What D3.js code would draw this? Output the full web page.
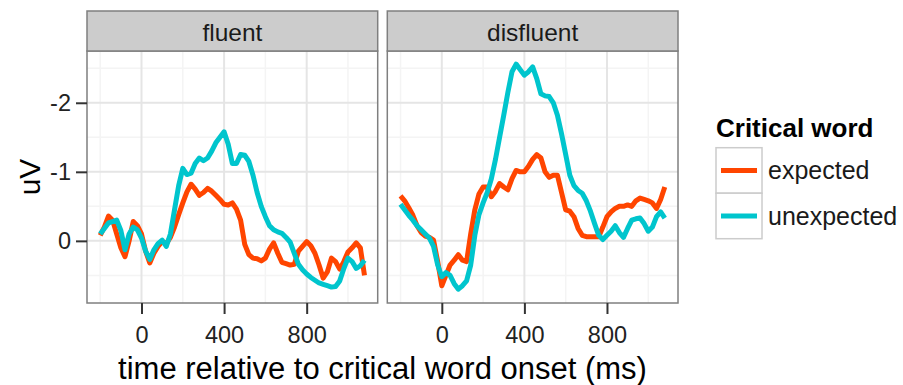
<!DOCTYPE html>
<html>
<head>
<meta charset="utf-8">
<script src="https://cdn.jsdelivr.net/npm/d3@7"></script>
<style>
  body { margin: 0; background: #fff; }
  svg { display: block; font-family: "Liberation Sans", Arial, sans-serif; }
</style>
</head>
<body>
<div id="chart"></div>
<script>
// ERP waveforms (uV, negative plotted up)
const times = [-200, -180, -160, -140, -120, -100, -80, -60, -40, -20, 0, 20, 40, 60, 80, 100, 120, 140, 160, 180,
  200, 220, 240, 260, 280, 300, 320, 340, 360, 380, 400, 420, 440, 460, 480, 500, 520, 540, 560, 580,
  600, 620, 640, 660, 680, 700, 720, 740, 760, 780, 800, 820, 840, 860, 880, 900, 920, 940, 960, 980,
  1000, 1020, 1040, 1060, 1080];

const panels = ["fluent", "disfluent"];
const conditions = ["expected", "unexpected"];

const fluentExpected = [-0.08, -0.2, -0.36, -0.3, -0.1, 0.1, 0.23, 0.0, -0.28, -0.22, -0.1, 0.15, 0.32, 0.18, 0.08, 0.01, 0.04, -0.05, -0.2, -0.38,
  -0.55, -0.71, -0.82, -0.75, -0.66, -0.7, -0.76, -0.72, -0.66, -0.6, -0.53, -0.52, -0.55, -0.46, -0.3, 0.05, 0.2, 0.25, 0.26, 0.29,
  0.25, 0.12, 0.03, 0.18, 0.31, 0.33, 0.35, 0.34, 0.15, 0.08, 0.01, 0.07, 0.18, 0.35, 0.54, 0.45, 0.25, 0.3, 0.41, 0.3,
  0.16, 0.1, 0.03, 0.1, 0.5];
const fluentUnexpected = [-0.1, -0.18, -0.26, -0.28, -0.3, -0.15, 0.13, -0.1, -0.2, -0.16, -0.04, 0.15, 0.27, 0.13, 0.04, -0.01, 0.08, -0.1, -0.45, -0.8,
  -1.05, -0.96, -0.98, -1.12, -1.2, -1.16, -1.2, -1.3, -1.42, -1.5, -1.58, -1.4, -1.12, -1.12, -1.25, -1.24, -1.15, -0.95, -0.7, -0.5,
  -0.35, -0.22, -0.16, -0.13, -0.11, -0.05, 0.02, 0.18, 0.34, 0.42, 0.48, 0.53, 0.57, 0.61, 0.63, 0.65, 0.67, 0.66, 0.58, 0.4,
  0.25, 0.3, 0.4, 0.36, 0.28];
const disfluentExpected = [-0.65, -0.58, -0.48, -0.37, -0.22, -0.12, -0.07, -0.05, -0.01, 0.3, 0.65, 0.5, 0.35, 0.28, 0.2, 0.28, 0.3, -0.1, -0.45, -0.68,
  -0.78, -0.78, -0.64, -0.72, -0.83, -0.78, -0.74, -0.9, -1.02, -1.0, -1.0, -1.08, -1.18, -1.25, -1.2, -1.0, -0.92, -0.95, -0.95, -0.7,
  -0.45, -0.43, -0.35, -0.18, -0.08, -0.06, -0.06, -0.06, -0.06, -0.2, -0.35, -0.42, -0.47, -0.5, -0.5, -0.52, -0.5, -0.58, -0.62, -0.6,
  -0.58, -0.55, -0.47, -0.6, -0.78];
const disfluentUnexpected = [-0.53, -0.45, -0.37, -0.3, -0.22, -0.16, -0.1, -0.04, 0.08, 0.35, 0.52, 0.46, 0.5, 0.62, 0.7, 0.65, 0.58, 0.35, -0.08, -0.38,
  -0.55, -0.7, -0.9, -1.18, -1.5, -1.82, -2.15, -2.45, -2.56, -2.48, -2.4, -2.45, -2.52, -2.35, -2.13, -2.1, -2.09, -2.0, -1.82, -1.55,
  -1.25, -0.95, -0.8, -0.73, -0.69, -0.58, -0.43, -0.25, -0.08, -0.02, -0.08, -0.14, -0.22, -0.12, -0.05, -0.18, -0.3, -0.32, -0.33, -0.25,
  -0.14, -0.2, -0.35, -0.42, -0.33];

const xTicks = [0, 400, 800];
const xMinor = [-200, 200, 600, 1000];
const yTicks = [-2, -1, 0];
const yMinor = [-2.5, -1.5, -0.5, 0.5];

const series = {
  fluent: { expected: fluentExpected, unexpected: fluentUnexpected },
  disfluent: { expected: disfluentExpected, unexpected: disfluentUnexpected }
};

const width = 903, height = 385;
const panelLeft = [87, 387.3];
const panelW = 290.7;
const stripTop = 11, panelTop = 51, panelBottom = 303;
const panelH = panelBottom - panelTop;

const color = d3.scaleOrdinal().domain(conditions).range(["#ff4500", "#00c5cd"]);

const x = d3.scaleLinear().domain([-264, 1144]).range([0, panelW]);
const y = d3.scaleLinear().domain([-2.75, 0.9]).range([0, panelH]);

const svg = d3.select("#chart").append("svg")
  .attr("width", width)
  .attr("height", height);

const line = d3.line()
  .x((d, i) => x(times[i]))
  .y(d => y(d));

panels.forEach((name, pi) => {
  const g = svg.append("g").attr("transform", `translate(${panelLeft[pi]},${panelTop})`);

  g.append("rect").attr("width", panelW).attr("height", panelH).attr("fill", "#fff");

  // minor grid
  g.selectAll(".vminor").data(xMinor).join("line")
    .attr("x1", d => x(d)).attr("x2", d => x(d))
    .attr("y1", 0).attr("y2", panelH)
    .attr("stroke", "#f4f4f4").attr("stroke-width", 1.5);
  g.selectAll(".hminor").data(yMinor).join("line")
    .attr("x1", 0).attr("x2", panelW)
    .attr("y1", d => y(d)).attr("y2", d => y(d))
    .attr("stroke", "#f4f4f4").attr("stroke-width", 1.5);

  // major grid
  g.append("g").selectAll("line").data(xTicks).join("line")
    .attr("x1", d => x(d)).attr("x2", d => x(d))
    .attr("y1", 0).attr("y2", panelH)
    .attr("stroke", "#e5e5e5").attr("stroke-width", 2);
  g.append("g").selectAll("line").data(yTicks).join("line")
    .attr("x1", 0).attr("x2", panelW)
    .attr("y1", d => y(d)).attr("y2", d => y(d))
    .attr("stroke", "#e5e5e5").attr("stroke-width", 2);

  // waveforms
  conditions.forEach(c => {
    g.append("path")
      .datum(series[name][c])
      .attr("d", line)
      .attr("fill", "none")
      .attr("stroke", color(c))
      .attr("stroke-width", 5)
      .attr("stroke-linejoin", "round");
  });

  g.append("rect").attr("width", panelW).attr("height", panelH)
    .attr("fill", "none").attr("stroke", "#7f7f7f").attr("stroke-width", 1.5);

  // strip
  g.append("rect")
    .attr("y", stripTop - panelTop).attr("width", panelW).attr("height", panelTop - stripTop)
    .attr("fill", "#cccccc").attr("stroke", "#7f7f7f").attr("stroke-width", 1.5);
  g.append("text")
    .attr("x", panelW / 2).attr("y", -10)
    .attr("text-anchor", "middle")
    .attr("font-size", 24.5).attr("fill", "#1a1a1a")
    .text(name);

  // x axis
  const xa = g.append("g").attr("transform", `translate(0,${panelH})`)
    .call(d3.axisBottom(x).tickValues(xTicks).tickSize(11).tickPadding(12).tickFormat(d => String(d)));
  xa.select(".domain").remove();
  xa.selectAll(".tick line").attr("stroke", "#333").attr("stroke-width", 2);
  xa.selectAll(".tick text").attr("font-size", 23.5).attr("fill", "#222")
    .attr("font-family", "Liberation Sans, Arial, sans-serif");

  if (pi === 0) {
    const ya = g.append("g")
      .call(d3.axisLeft(y).tickValues(yTicks).tickSize(11).tickPadding(5).tickFormat(d => String(d)));
    ya.select(".domain").remove();
    ya.selectAll(".tick line").attr("stroke", "#333").attr("stroke-width", 2);
    ya.selectAll(".tick text").attr("font-size", 23.5).attr("fill", "#222")
      .attr("font-family", "Liberation Sans, Arial, sans-serif");
  }
});

// axis titles
svg.append("text")
  .attr("x", (panelLeft[0] + panelLeft[1] + panelW) / 2).attr("y", 379)
  .attr("text-anchor", "middle").attr("font-size", 31).attr("fill", "#000")
  .text("time relative to critical word onset (ms)");

svg.append("text")
  .attr("transform", `translate(40,${(panelTop + panelBottom) / 2}) rotate(-90)`)
  .attr("text-anchor", "middle").attr("font-size", 30).attr("fill", "#000")
  .text("uV");

// legend
const legend = svg.append("g").attr("transform", "translate(716,137)");
legend.append("text")
  .attr("font-size", 26).attr("font-weight", "bold").attr("fill", "#000")
  .text("Critical word");

const keyH = 45.5, keyW = 46;
const keys = legend.selectAll(".key").data(conditions).join("g")
  .attr("transform", (d, i) => `translate(0,${10.7 + i * keyH})`);
keys.append("rect")
  .attr("width", keyW).attr("height", keyH)
  .attr("fill", "#fff").attr("stroke", "#cccccc").attr("stroke-width", 1.5);
keys.append("line")
  .attr("x1", 5).attr("x2", 41)
  .attr("y1", keyH / 2).attr("y2", keyH / 2)
  .attr("stroke", d => color(d)).attr("stroke-width", 5);
keys.append("text")
  .attr("x", 52).attr("y", keyH / 2 + 9)
  .attr("font-size", 25).attr("fill", "#1a1a1a")
  .text(d => d);
</script>
</body>
</html>
